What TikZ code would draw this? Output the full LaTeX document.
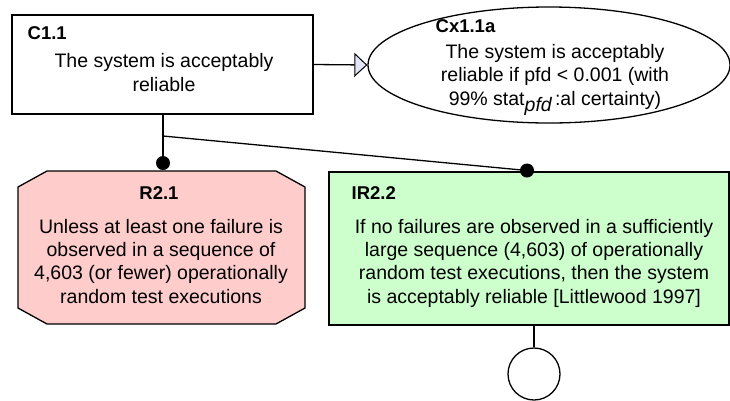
\documentclass[tikz,border=0pt]{standalone}
\usepackage{fontspec}
\setmainfont{Liberation Sans}
\usetikzlibrary{arrows.meta,shapes.geometric}
\definecolor{pinkfill}{HTML}{FFCCCC}
\definecolor{greenfill}{HTML}{CCFFCC}
\definecolor{lavfill}{HTML}{E4E4F8}
\begin{document}
\begin{tikzpicture}[x=1pt,y=-1pt,line width=1.3pt,
  idlabel/.style={font=\fontsize{18.5}{22}\selectfont\bfseries,inner sep=0pt,anchor=base west},
  idcenter/.style={font=\fontsize{18.5}{22}\selectfont\bfseries,inner sep=0pt,anchor=base},
  bodytext/.style={font=\fontsize{19.5}{23.3}\selectfont,inner sep=0pt,align=center,anchor=base},
  claimbox/.style={draw,rectangle,inner sep=0pt},
  ctxshape/.style={draw,ellipse,inner sep=0pt},
  dotend/.style={circle,fill=black,inner sep=0pt,minimum size=14pt},
  link/.style={line width=1.3pt}]
\useasboundingbox (0,0) rectangle (730,400);

% C1.1
\node[claimbox,minimum width=301pt,minimum height=99pt] (c11) at (162.5,64.5) {};
\node[idlabel] (c11id) at (27,39) {C1.1};
\node[bodytext] (c11txt) at (164,91) {The system is acceptably\\reliable};

% Cx1.1a
\node[ctxshape,minimum width=362pt,minimum height=116pt] (cx) at (549,65) {};
\node[idlabel] (cxid) at (435,32) {Cx1.1a};
\node[bodytext] (cxtxt) at (555,105) {The system is acceptably\\reliable if pfd < 0.001 (with\\99\% stat\raisebox{-6pt}{\itshape pfd}\,:al certainty)};

% R2.1 (chamfered octagon)
\filldraw[fill=pinkfill] (47,171) -- (276,171) -- (305,187) -- (305,308) -- (276,324)
  -- (47,324) -- (18,308) -- (18,187) -- cycle;
\coordinate (r21top) at (163,171);
\node[idcenter] (r21id) at (159,199) {R2.1};
\node[bodytext] (r21txt) at (161,303) {Unless at least one failure is\\observed in a sequence of\\4,603 (or fewer) operationally\\random test executions};

% IR2.2
\node[claimbox,fill=greenfill,minimum width=400pt,minimum height=153pt] (ir22) at (529,248.5) {};
\node[idlabel] (ir22id) at (351,199) {IR2.2};
\node[bodytext] (ir22txt) at (534,303) {If no failures are observed in a sufficiently\\large sequence (4,603) of operationally\\random test executions, then the system\\is acceptably reliable [Littlewood 1997]};

% undeveloped circle
\node[draw,circle,minimum size=52pt,inner sep=0pt] (und) at (534,374) {};

% connectors
\coordinate (split) at (163,136);
\node[dotend] (dot1) at (163,163) {};
\node[dotend] (dot2) at (527,170.5) {};
\draw[link] (c11.south -| split) -- (split) -- (dot1.center);
\draw[link] (split) -- (dot2.center);
\draw[link,-{Triangle[length=13pt,width=24pt,fill=lavfill,line width=1pt]}] (c11.east) -- (cx.west);
\draw[link] (ir22.south -| und) -- (und.north);
\end{tikzpicture}
\end{document}
